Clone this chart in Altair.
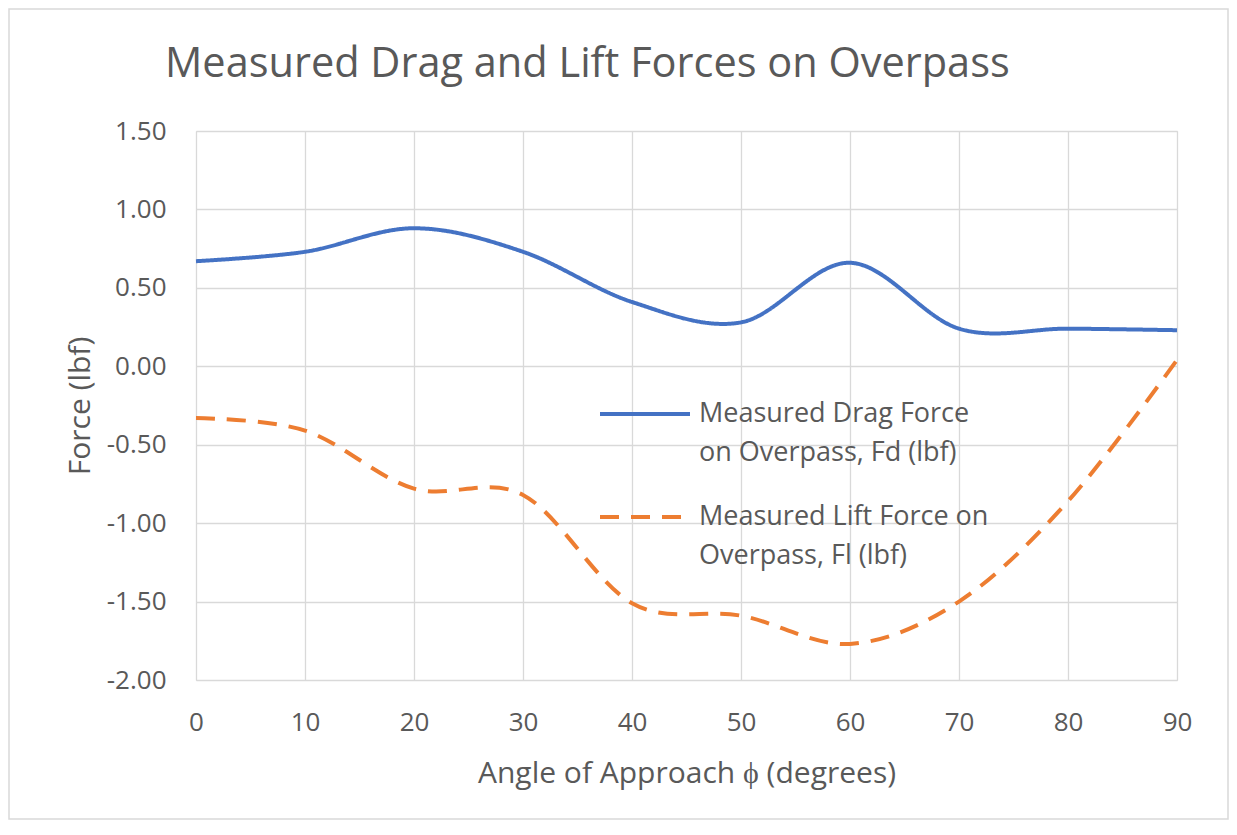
import altair as alt
import pandas as pd

# ---- data ----
angles = [0, 10, 20, 30, 40, 50, 60, 70, 80, 90]
drag_force = [0.67, 0.73, 0.88, 0.73, 0.41, 0.28, 0.66, 0.24, 0.24, 0.23]
lift_force = [-0.33, -0.41, -0.78, -0.82, -1.51, -1.59, -1.77, -1.50, -0.86, 0.04]
series_names = ["Drag", "Lift"]
y_ticks = [-2.0, -1.5, -1.0, -0.5, 0.0, 0.5, 1.0, 1.5]
x_ticks = [0, 10, 20, 30, 40, 50, 60, 70, 80, 90]

title_text = "Measured Drag and Lift Forces on Overpass"
x_title = "Angle of Approach \u03d5 (degrees)"
y_title = "Force (lbf)"

df = pd.DataFrame({
    "angle": angles + angles,
    "force": drag_force + lift_force,
    "series": [series_names[0]] * len(angles) + [series_names[1]] * len(angles),
})

W, H = 981, 549
PAD = {"left": 188, "top": 123, "right": 52, "bottom": 140}
GRAY = "#595959"
FONT = "Open Sans"
LH = 39  # legend label line height

legend = alt.Legend(
    title=None,
    orient="none",
    legendX=402,
    legendY=236,
    symbolType="stroke",
    symbolSize=8100,
    symbolStrokeWidth=4,
    labelExpr="datum.value == 'Drag' ? ['Measured Drag Force', 'on Overpass, Fd (lbf)'] : ['Measured Lift Force on', 'Overpass, Fl (lbf)']",
    labelFont=FONT,
    labelFontSize=27,
    labelColor=GRAY,
    labelLimit=500,
    labelOffset=7,
    rowPadding=4,
)

lines = alt.Chart(df).mark_line(interpolate="cardinal", tension=0, strokeWidth=4).encode(
    x=alt.X(
        "angle:Q",
        scale=alt.Scale(domain=[0, 90], nice=False, zero=False),
        axis=alt.Axis(
            values=x_ticks,
            title=x_title,
            grid=True,
            gridColor="#d9d9d9",
            gridWidth=1.3,
            domain=False,
            ticks=False,
            tickSize=0,
            labelFlush=False,
            labelFont=FONT,
            labelFontSize=26,
            labelColor=GRAY,
            labelPadding=29,
            titleFont=FONT,
            titleFontSize=30,
            titleFontWeight="normal",
            titleColor=GRAY,
            titleX=490.5,
            titleY=93,
            titleBaseline="middle",
            titleAlign="center",
        ),
    ),
    y=alt.Y(
        "force:Q",
        scale=alt.Scale(domain=[-2.0, 1.5], nice=False, zero=False),
        axis=alt.Axis(
            values=y_ticks,
            format=".2f",
            labelExpr="replace(datum.label, '\u2212', '-')",
            title=y_title,
            grid=True,
            gridColor="#d9d9d9",
            gridWidth=1.3,
            domain=False,
            ticks=False,
            tickSize=0,
            labelFlush=False,
            labelFont=FONT,
            labelFontSize=26,
            labelColor=GRAY,
            labelPadding=30,
            titleFont=FONT,
            titleFontSize=30,
            titleFontWeight="normal",
            titleColor=GRAY,
            titleX=-116,
            titleY=H / 2,
            titleBaseline="middle",
            titleAlign="center",
        ),
    ),
    color=alt.Color(
        "series:N",
        scale=alt.Scale(domain=series_names, range=["#4472C4", "#ED7D31"]),
        legend=legend,
    ),
    strokeDash=alt.StrokeDash(
        "series:N",
        scale=alt.Scale(domain=series_names, range=[[1, 0], [19, 12]]),
        legend=legend,
    ),
)

frame = alt.Chart(alt.Data(values=[{}])).mark_rect(
    fill=None, stroke="#d9d9d9", strokeWidth=1.5, clip=False
).encode(
    x=alt.value(-PAD["left"] + 1),
    x2=alt.value(W + PAD["right"] - 1),
    y=alt.value(-PAD["top"] + 1),
    y2=alt.value(H + PAD["bottom"] - 1),
)

title = alt.Chart(alt.Data(values=[{"t": title_text}])).mark_text(
    align="left", baseline="alphabetic", font=FONT, fontSize=41.5, color=GRAY, clip=False
).encode(
    text="t:N",
    x=alt.value(-31),
    y=alt.value(-54),
)

chart = alt.layer(frame, title, lines).properties(
    width=W,
    height=H,
    padding=PAD,
    autosize=alt.AutoSizeParams(type="none"),
).configure_view(stroke=None).configure(
    background="white",
    style={"guide-label": {"lineHeight": LH}},
)

chart.save("out.html", embed_options={"renderer": "svg", "actions": False})
